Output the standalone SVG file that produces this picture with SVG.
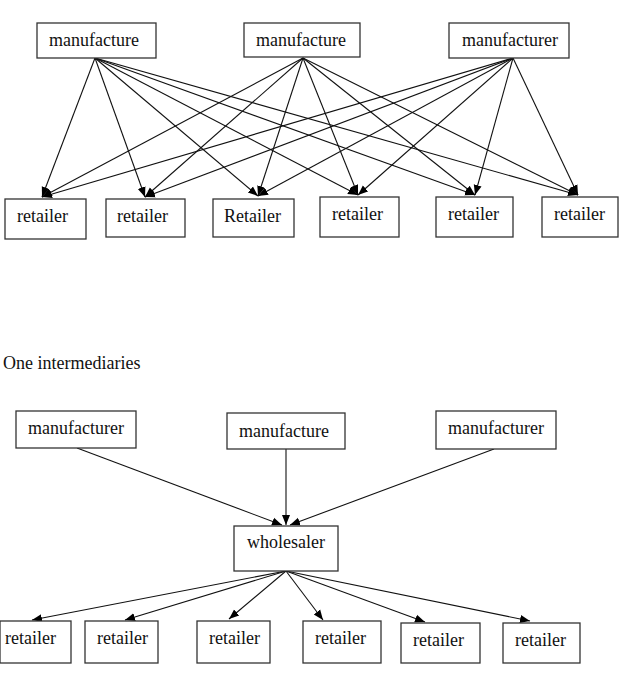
<svg xmlns="http://www.w3.org/2000/svg" width="621" height="681" viewBox="0 0 621 681">
<style>
.box{fill:#fff;stroke:#333;stroke-width:1.3}
.t{font-family:"Liberation Serif","Times New Roman",serif;font-size:18px;fill:#111}
.c{stroke:#111;stroke-width:1.1;fill:none;marker-end:url(#ah)}
</style>
<defs>
<marker id="ah" markerUnits="userSpaceOnUse" markerWidth="10" markerHeight="10" viewBox="0 0 10 8" refX="10" refY="4" orient="auto">
<path d="M0,0 L10,4 L0,8 Z" fill="#000"/>
</marker>
</defs>
<rect width="621" height="681" fill="#fff"/>
<g id="connectors">
<line class="c" x1="95" y1="58" x2="42" y2="197"/>
<line class="c" x1="95" y1="58" x2="145" y2="197"/>
<line class="c" x1="95" y1="58" x2="258" y2="196"/>
<line class="c" x1="95" y1="58" x2="358" y2="195"/>
<line class="c" x1="95" y1="58" x2="475" y2="195"/>
<line class="c" x1="95" y1="58" x2="578" y2="195"/>
<line class="c" x1="303" y1="58" x2="42" y2="197"/>
<line class="c" x1="303" y1="58" x2="145" y2="197"/>
<line class="c" x1="303" y1="58" x2="258" y2="196"/>
<line class="c" x1="303" y1="58" x2="358" y2="195"/>
<line class="c" x1="303" y1="58" x2="475" y2="195"/>
<line class="c" x1="303" y1="58" x2="578" y2="195"/>
<line class="c" x1="513" y1="58" x2="42" y2="197"/>
<line class="c" x1="513" y1="58" x2="145" y2="197"/>
<line class="c" x1="513" y1="58" x2="258" y2="196"/>
<line class="c" x1="513" y1="58" x2="358" y2="195"/>
<line class="c" x1="513" y1="58" x2="475" y2="195"/>
<line class="c" x1="513" y1="58" x2="578" y2="195"/>
<line class="c" x1="77" y1="448" x2="282" y2="525"/>
<line class="c" x1="286" y1="449" x2="286" y2="525"/>
<line class="c" x1="494" y1="449" x2="290" y2="525"/>
<line class="c" x1="286" y1="571" x2="32" y2="620"/>
<line class="c" x1="286" y1="571" x2="125" y2="620"/>
<line class="c" x1="286" y1="571" x2="229" y2="619"/>
<line class="c" x1="286" y1="571" x2="323" y2="620"/>
<line class="c" x1="286" y1="571" x2="425" y2="622"/>
<line class="c" x1="286" y1="571" x2="530" y2="621"/>
</g>
<g id="m1"><rect class="box" x="37" y="23" width="119" height="35"/><text class="t" x="49" y="46">manufacture</text></g>
<g id="m2"><rect class="box" x="244" y="23" width="116" height="34"/><text class="t" x="256" y="46">manufacture</text></g>
<g id="m3"><rect class="box" x="449" y="23" width="120" height="35"/><text class="t" x="462" y="46">manufacturer</text></g>
<g id="r1"><rect class="box" x="5" y="199" width="81" height="40"/><text class="t" x="17" y="222">retailer</text></g>
<g id="r2"><rect class="box" x="106" y="199" width="79" height="38"/><text class="t" x="117" y="222">retailer</text></g>
<g id="r3"><rect class="box" x="213" y="199" width="81" height="38"/><text class="t" x="224" y="222">Retailer</text></g>
<g id="r4"><rect class="box" x="320" y="197" width="79" height="40"/><text class="t" x="332" y="220">retailer</text></g>
<g id="r5"><rect class="box" x="436" y="197" width="77" height="40"/><text class="t" x="448" y="220">retailer</text></g>
<g id="r6"><rect class="box" x="542" y="197" width="76" height="40"/><text class="t" x="554" y="220">retailer</text></g>
<text class="t" x="3" y="369">One intermediaries</text>
<g id="bm1"><rect class="box" x="16" y="411" width="120" height="37"/><text class="t" x="28" y="434">manufacturer</text></g>
<g id="bm2"><rect class="box" x="227" y="413" width="118" height="36"/><text class="t" x="239" y="437">manufacture</text></g>
<g id="bm3"><rect class="box" x="436" y="411" width="120" height="38"/><text class="t" x="448" y="434">manufacturer</text></g>
<g id="wholesaler"><rect class="box" x="234" y="526" width="104" height="45"/><text class="t" x="247" y="548">wholesaler</text></g>
<g id="b1"><rect class="box" x="0" y="621" width="71" height="42"/><text class="t" x="5" y="644">retailer</text></g>
<g id="b2"><rect class="box" x="85" y="621" width="73" height="42"/><text class="t" x="97" y="644">retailer</text></g>
<g id="b3"><rect class="box" x="197" y="621" width="73" height="42"/><text class="t" x="209" y="644">retailer</text></g>
<g id="b4"><rect class="box" x="303" y="621" width="78" height="42"/><text class="t" x="315" y="644">retailer</text></g>
<g id="b5"><rect class="box" x="401" y="623" width="79" height="40"/><text class="t" x="413" y="646">retailer</text></g>
<g id="b6"><rect class="box" x="503" y="623" width="77" height="40"/><text class="t" x="515" y="646">retailer</text></g>
</svg>
